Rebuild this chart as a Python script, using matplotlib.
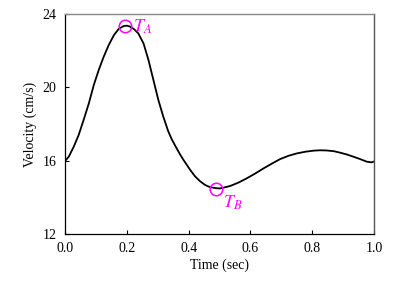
import matplotlib
matplotlib.use("Agg")
import matplotlib.pyplot as plt

t = [0.0, 0.003, 0.012, 0.028, 0.044, 0.060, 0.077, 0.093, 0.109, 0.125, 0.141,
     0.158, 0.174, 0.190, 0.200, 0.210, 0.223, 0.237, 0.254, 0.270, 0.286, 0.302,
     0.318, 0.334, 0.345, 0.356, 0.372, 0.383, 0.405, 0.420, 0.437, 0.453, 0.469,
     0.490, 0.502, 0.534, 0.560, 0.588, 0.615, 0.642, 0.670, 0.696, 0.723, 0.750,
     0.777, 0.804, 0.825, 0.847, 0.870, 0.890, 0.912, 0.933, 0.955, 0.976, 0.992,
     1.0]
v = [16.0, 16.04, 16.22, 16.76, 17.4, 18.22, 19.13, 20.13, 20.95, 21.67, 22.3,
     22.85, 23.2, 23.35, 23.37, 23.32, 23.18, 22.95, 22.4, 21.49, 20.4, 19.31,
     18.4, 17.6, 17.18, 16.83, 16.35, 16.05, 15.5, 15.16, 14.88, 14.68, 14.56,
     14.5, 14.49, 14.62, 14.8, 15.04, 15.3, 15.58, 15.85, 16.09, 16.27, 16.4,
     16.49, 16.55, 16.57, 16.56, 16.52, 16.44, 16.34, 16.22, 16.09, 15.95, 15.91,
     15.96]

marks_t = [0.194, 0.489]
marks_v = [23.35, 14.47]
mark_labels = ["$T_A$", "$T_B$"]

xticks = [0.0, 0.2, 0.4, 0.6, 0.8, 1.0]
yticks = [12, 16, 20, 24]

plt.rcParams['font.family'] = ['Liberation Serif', 'DejaVu Serif']
plt.rcParams['mathtext.fontset'] = 'stix'

fig = plt.figure(figsize=(4.04, 2.82), dpi=100)
ax = fig.add_axes([0.161, 0.170, 0.765, 0.780])

ax.plot(t, v, color='black', lw=1.3, solid_joinstyle='round')
ax.plot(marks_t, marks_v, 'o', ms=9, mfc='none', mec='#ff00ff', mew=1.1)
ax.text(marks_t[0] + 0.025, marks_v[0] - 0.05, mark_labels[0], color='#ff00ff',
        fontsize=13, ha='left', va='center')
ax.text(marks_t[1] + 0.022, marks_v[1] - 0.75, mark_labels[1], color='#ff00ff',
        fontsize=13, ha='left', va='center')

ax.set_xlim(0, 1)
ax.set_ylim(12, 24)
ax.set_xticks(xticks)
ax.set_xticklabels([f"{x:.1f}" for x in xticks])
ax.set_yticks(yticks)
ax.tick_params(direction='in', length=3, width=0.8, labelsize=10, pad=6)
ax.tick_params(axis='x', top=False)
ax.tick_params(axis='y', right=False)
ax.set_xlabel("Time (sec)", fontsize=10, labelpad=2)
ax.set_ylabel("Velocity (cm/s)", fontsize=10, labelpad=4)

for s in ['left', 'bottom']:
    ax.spines[s].set_color('black')
    ax.spines[s].set_linewidth(0.9)
ax.spines['top'].set_color('#888888')
ax.spines['top'].set_linewidth(1.0)
ax.spines['right'].set_color('#555555')
ax.spines['right'].set_linewidth(1.0)

fig.savefig("out.png", dpi=100)
